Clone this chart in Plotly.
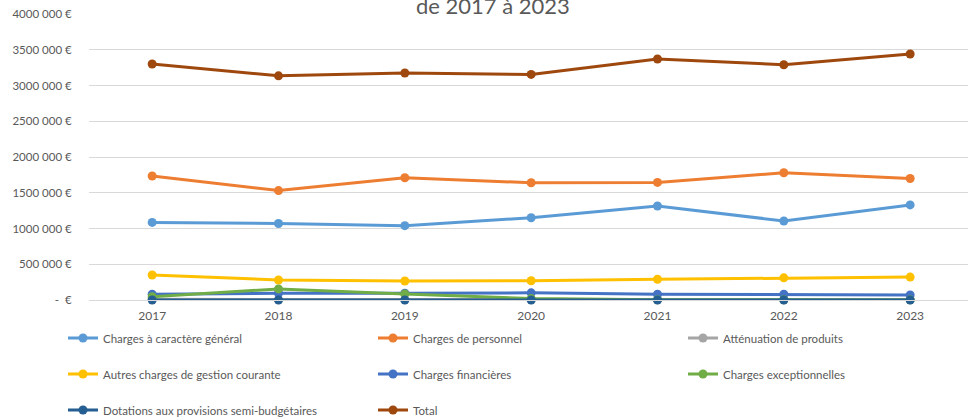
import plotly.graph_objects as go

# Dépenses de fonctionnement par chapitre, 2017-2023 (en euros)
annees = [2017, 2018, 2019, 2020, 2021, 2022, 2023]

charges_generales = [1085000, 1070000, 1040000, 1150000, 1315000, 1105000, 1330000]
charges_personnel = [1735000, 1530000, 1710000, 1640000, 1645000, 1780000, 1700000]
attenuation_produits = [10000, 5000, 5000, 5000, 5000, 5000, 5000]
autres_charges = [350000, 280000, 265000, 270000, 290000, 310000, 320000]
charges_financieres = [80000, 95000, 95000, 100000, 80000, 80000, 70000]
charges_exceptionnelles = [45000, 155000, 85000, 20000, 5000, 3000, 2000]
dotations_provisions = [0, 0, 0, 0, 0, 0, 0]
total = [3300000, 3135000, 3175000, 3155000, 3370000, 3290000, 3440000]

y_ticks = [0, 500000, 1000000, 1500000, 2000000, 2500000, 3000000, 3500000, 4000000]
y_tick_labels = ["-  €", "500 000 €", "1000 000 €", "1500 000 €", "2000 000 €",
                 "2500 000 €", "3000 000 €", "3500 000 €", "4000 000 €"]

# (libellé, valeurs, couleur, colonne de légende)
series = [
    ("Charges à caractère général", charges_generales, "#5B9BD5", "legend"),
    ("Charges de personnel", charges_personnel, "#ED7D31", "legend2"),
    ("Atténuation de produits", attenuation_produits, "#A5A5A5", "legend3"),
    ("Autres charges de gestion courante", autres_charges, "#FFC000", "legend"),
    ("Charges financières", charges_financieres, "#4472C4", "legend2"),
    ("Charges exceptionnelles", charges_exceptionnelles, "#70AD47", "legend3"),
    ("Dotations aux provisions semi-budgétaires", dotations_provisions, "#255E91", "legend"),
    ("Total", total, "#9E480E", "legend2"),
]

FONT = "Lato"
GREY_TEXT = "#595959"
GRID = "#D9D9D9"

fig = go.Figure()
for i, (name, values, color, leg) in enumerate(series):
    fig.add_trace(go.Scatter(
        x=annees, y=values, name=name, mode="lines+markers",
        line=dict(color=color, width=3),
        marker=dict(color=color, size=9),
        cliponaxis=False, legend=leg, legendgroup=f"g{i}",
    ))

W, H = 968, 419
left, top, bottom = 89, 14, 119
plot_w = W - left
plot_h = H - top - bottom
step = 126.33  # pixels between consecutive years
x_range = [2016.5, 2016.5 + plot_w / step]

legend_common = dict(
    orientation="v", xref="container", yref="container",
    xanchor="left", yanchor="top",
    font=dict(family=FONT, size=11.5, color=GREY_TEXT),
    tracegroupgap=17, bgcolor="rgba(0,0,0,0)",
    itemclick=False, itemdoubleclick=False,
)
legend_top = 1 - 323.5 / H

fig.update_layout(
    width=W, height=H,
    margin=dict(l=left, r=0, t=top, b=bottom, pad=0, autoexpand=False),
    paper_bgcolor="white", plot_bgcolor="white",
    font=dict(family=FONT, color=GREY_TEXT),
    showlegend=True,
    legend=dict(legend_common, x=63 / W, y=legend_top),
    legend2=dict(legend_common, x=373 / W, y=legend_top),
    legend3=dict(legend_common, x=683 / W, y=legend_top),
    xaxis=dict(
        range=x_range, tickvals=annees, ticktext=[str(a) for a in annees],
        showgrid=False, zeroline=False,
        showline=True, linecolor=GRID, linewidth=1,
        ticks="outside", ticklen=5, tickcolor="rgba(0,0,0,0)",
        tickfont=dict(family=FONT, size=12, color=GREY_TEXT),
    ),
    yaxis=dict(
        range=[0, 4000000], tickvals=y_ticks, ticktext=y_tick_labels,
        showgrid=True, gridcolor=GRID, gridwidth=1, zeroline=False,
        ticks="outside", ticklen=14, tickcolor="rgba(0,0,0,0)",
        tickfont=dict(family=FONT, size=11.5, color=GREY_TEXT),
    ),
    annotations=[dict(
        text="de 2017 à 2023", xref="paper", yref="paper",
        x=(493 - left) / plot_w, y=1 - 7 / plot_h,
        xanchor="center", yanchor="bottom", showarrow=False,
        font=dict(family=FONT, size=22, color=GREY_TEXT),
    )],
)

fig.write_html("out.html")
